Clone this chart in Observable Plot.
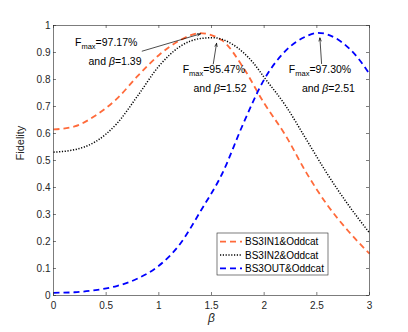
<!DOCTYPE html>
<html><head><meta charset="utf-8">
<script src="https://cdn.jsdelivr.net/npm/d3@7"></script>
<script src="https://cdn.jsdelivr.net/npm/@observablehq/plot@0.6"></script>
<style>body{margin:0;background:#fff}#chart{width:408px;height:332px}</style>
</head><body><div id="chart"></div>
<script>
// ---- data ----
const seriesNames = ["BS3IN1&Oddcat", "BS3IN2&Oddcat", "BS3OUT&Oddcat"];
const betaIN1 = [0, 0.2, 0.4, 0.6, 0.8, 1.0, 1.2, 1.39, 1.6, 1.8, 2.0, 2.2, 2.4, 2.6, 2.8, 3.0];
const fidIN1  = [0.615, 0.626, 0.667, 0.728, 0.813, 0.890, 0.945, 0.9717, 0.945, 0.845, 0.712, 0.595, 0.455, 0.335, 0.238, 0.155];
const betaIN2 = [0, 0.2, 0.4, 0.6, 0.8, 1.0, 1.2, 1.4, 1.52, 1.7, 1.9, 2.0, 2.2, 2.4, 2.6, 2.8, 3.0];
const fidIN2  = [0.531, 0.540, 0.570, 0.636, 0.740, 0.849, 0.922, 0.952, 0.9547, 0.930, 0.860, 0.808, 0.705, 0.578, 0.450, 0.335, 0.232];
const betaOUT = [0, 0.2, 0.4, 0.6, 0.8, 1.0, 1.2, 1.4, 1.6, 1.8, 2.0, 2.2, 2.4, 2.51, 2.7, 2.9, 3.0];
const fidOUT  = [0.010, 0.012, 0.020, 0.035, 0.063, 0.110, 0.190, 0.315, 0.450, 0.635, 0.800, 0.905, 0.960, 0.9730, 0.948, 0.875, 0.820];
const xTicks = [0, 0.5, 1, 1.5, 2, 2.5, 3];
const yTicks = [0, 0.1, 0.2, 0.3, 0.4, 0.5, 0.6, 0.7, 0.8, 0.9, 1];
const annText = ["Fmax=97.17%", "and β=1.39", "Fmax=95.47%", "and β=1.52", "Fmax=97.30%", "and β=2.51"];
const annX = [0.50, 0.584, 1.522, 1.581, 2.53, 2.61];
const annY = [0.937, 0.867, 0.837, 0.767, 0.837, 0.767];
const arrX1 = [0.842, 1.517, 2.545];
const arrY1 = [0.905, 0.858, 0.859];
const arrX2 = [1.396, 1.548, 2.529];
const arrY2 = [0.969, 0.934, 0.954];

// ---- styles ----
const styles = [
  {stroke: "#ff6a3a", strokeWidth: 1.8, strokeDasharray: "6,4"},
  {stroke: "#000", strokeWidth: 1.5, strokeDasharray: "1.2,1.6"},
  {stroke: "#0000ff", strokeWidth: 1.8, strokeDasharray: "6,4"}
];
const mk = (b, f) => b.map((x, i) => ({beta: x, f: f[i]}));
const tables = [mk(betaIN1, fidIN1), mk(betaIN2, fidIN2), mk(betaOUT, fidOUT)];
const ann = annText.map((t, i) => ({t, x: annX[i], y: annY[i]}));
const arrows = arrX1.map((x, i) => ({x1: x, y1: arrY1[i], x2: arrX2[i], y2: arrY2[i]}));

const W = 408, H = 332, mL = 53, mR = 39, mT = 25, mB = 37;
const pw = W - mL - mR, ph = H - mT - mB;
const axisColor = "#262626";

const svg = Plot.plot({
  width: W, height: H, marginLeft: mL, marginRight: mR, marginTop: mT, marginBottom: mB,
  style: {fontFamily: "'Liberation Sans', Arial, sans-serif", fontSize: "10px", background: "#fff", color: axisColor},
  x: {domain: [0, 3]},
  y: {domain: [0, 1]},
  marks: [
    ...tables.map((t, i) => Plot.line(t, {x: "beta", y: "f", curve: "monotone-x", strokeLinecap: "butt", ...styles[i]})),
    Plot.frame({stroke: axisColor, strokeWidth: 0.6}),
    Plot.tickX(xTicks, {x: d => d, insetTop: ph - 3, stroke: axisColor, strokeWidth: 0.6}),
    Plot.tickX(xTicks, {x: d => d, insetBottom: ph - 3, stroke: axisColor, strokeWidth: 0.6}),
    Plot.tickY(yTicks, {y: d => d, insetRight: pw - 3, stroke: axisColor, strokeWidth: 0.6}),
    Plot.tickY(yTicks, {y: d => d, insetLeft: pw - 3, stroke: axisColor, strokeWidth: 0.6}),
    Plot.axisX(xTicks, {tickSize: 0, tickPadding: 6, label: null, tickFormat: d => String(d), fill: axisColor}),
    Plot.axisY(yTicks, {tickSize: 0, tickPadding: 3, label: null, tickFormat: d => String(d), fill: axisColor}),
    Plot.text(["β"], {frameAnchor: "bottom", lineAnchor: "middle", dy: 23, text: d => d, fontStyle: "italic", fontSize: 12, fill: axisColor}),
    Plot.text(["Fidelity"], {frameAnchor: "left", dx: -33, rotate: -90, text: d => d, fontSize: 11, fill: axisColor}),
    Plot.arrow(arrows, {x1: "x1", y1: "y1", x2: "x2", y2: "y2", stroke: "#000", strokeWidth: 0.7, headLength: 7, headAngle: 40}),
    Plot.text(ann, {x: "x", y: "y", text: "t", fontSize: 10.5, fill: "#000", className: "ann"})
  ]
});
document.getElementById("chart").appendChild(svg);

// subscripts and italic beta in annotations
d3.select(svg).selectAll(".ann text").each(function () {
  const t = this.textContent;
  const s = d3.select(this);
  if (t.startsWith("Fmax")) {
    s.text(null);
    s.append("tspan").text("F");
    s.append("tspan").attr("font-size", "7.5px").attr("dy", "3").text("max");
    s.append("tspan").attr("dy", "-3").text(t.slice(4));
  } else if (t.includes("β")) {
    const [a, b] = t.split("β");
    s.text(null);
    s.append("tspan").text(a);
    s.append("tspan").attr("font-style", "italic").text("β");
    s.append("tspan").text(b);
  }
});

// legend box
const lg = d3.select(svg).append("g")
  .attr("font-family", "'Liberation Sans', Arial, sans-serif").attr("font-size", "10px")
  .attr("text-anchor", "start");
lg.append("rect").attr("x", 217).attr("y", 233).attr("width", 111).attr("height", 42)
  .attr("fill", "#fff").attr("stroke", axisColor).attr("stroke-width", 0.6);
seriesNames.forEach((name, i) => {
  const yy = 241.7 + i * 13.3;
  lg.append("line").attr("x1", 220).attr("x2", 242).attr("y1", yy).attr("y2", yy)
    .attr("stroke", styles[i].stroke).attr("stroke-width", styles[i].strokeWidth)
    .attr("stroke-dasharray", styles[i].strokeDasharray);
  lg.append("text").attr("x", 245).attr("y", yy).attr("dy", "0.35em").attr("fill", "#000")
    .attr("text-anchor", "start").text(name);
});
</script>
</body></html>
